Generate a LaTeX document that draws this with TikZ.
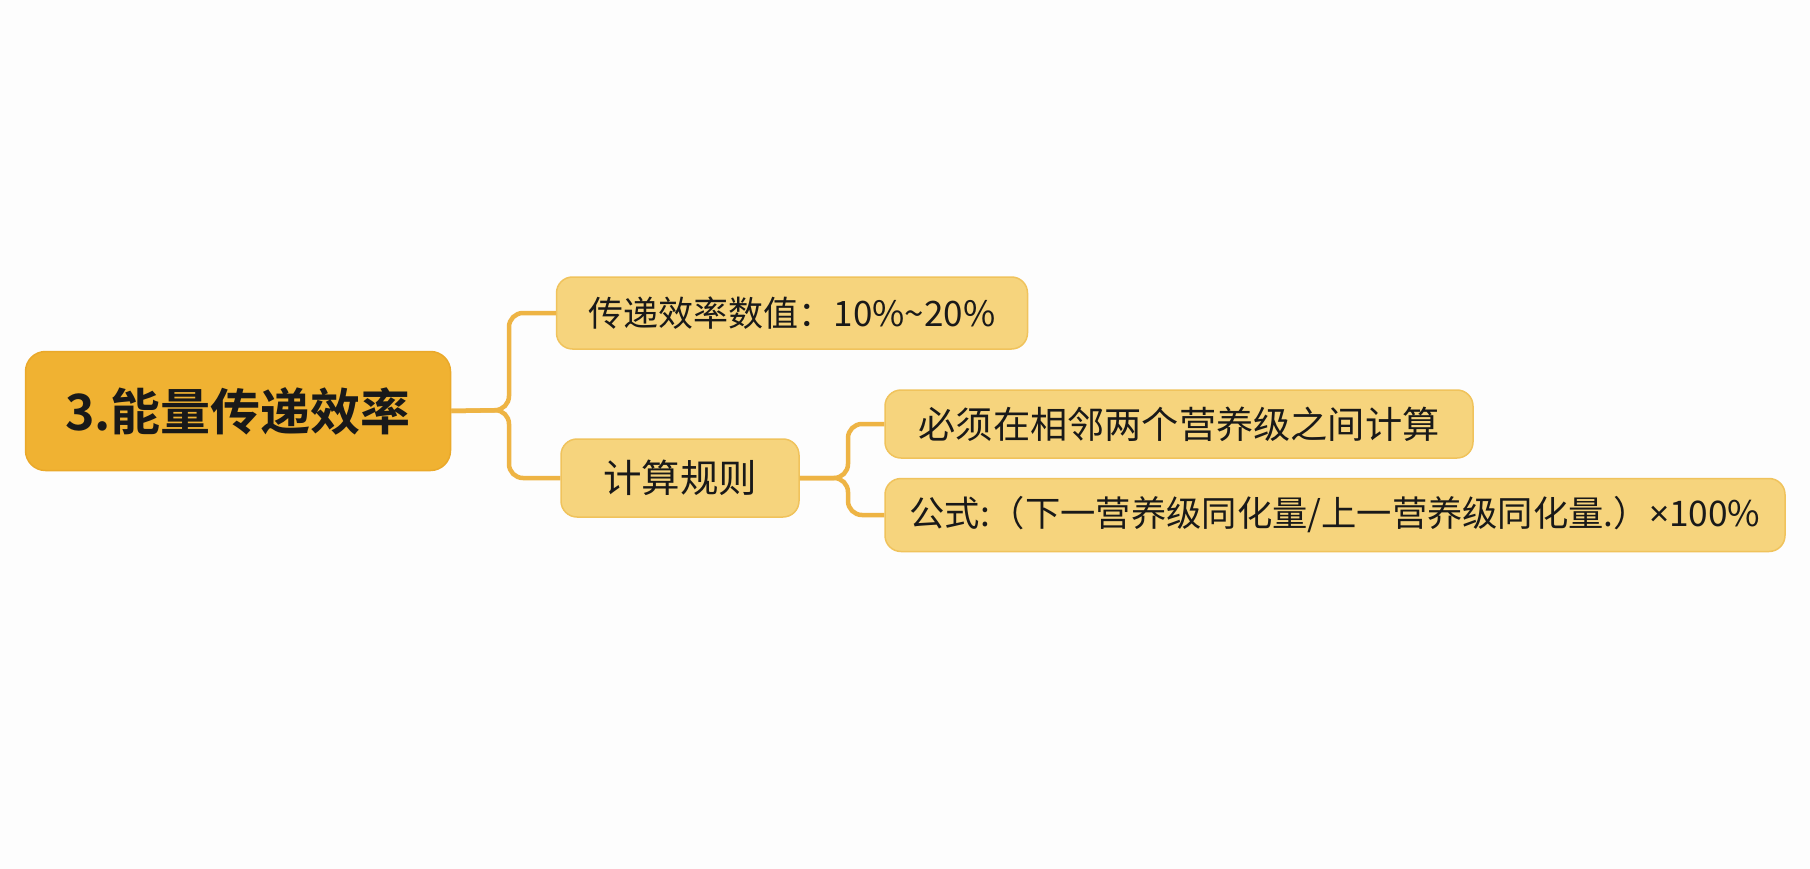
\documentclass[tikz,border=0pt]{standalone}
\usepackage{fontspec}
\newfontfamily\cjk{Noto Sans CJK SC}
\newfontfamily\cjkb{Noto Sans CJK SC Bold}
\newfontfamily\lat{Noto Sans}
\definecolor{bgc}{HTML}{FDFDFD}
\definecolor{rootfill}{HTML}{F0B232}
\definecolor{rootdraw}{HTML}{EAA92A}
\definecolor{kidfill}{HTML}{F6D47D}
\definecolor{kiddraw}{HTML}{F0C35C}
\definecolor{conn}{HTML}{EEB444}
\tikzset{
  rootbox/.style={draw=rootdraw, fill=rootfill, line width=1.5pt, rounded corners=20pt,
    minimum width=425pt, minimum height=119pt, inner sep=0pt,
    font=\cjkb\fontsize{50}{60}\selectfont, text=black!90},
  kidbox/.style={draw=kiddraw, fill=kidfill, line width=1.5pt, rounded corners=16pt,
    inner sep=0pt, text=black!90},
  link/.style={draw=conn, line width=4.5pt, rounded corners=14pt},
}
\begin{document}
\begin{tikzpicture}[x=1pt,y=-1pt]
  \fill[bgc] (0,0) rectangle (1810,869);
  \useasboundingbox (0,0) rectangle (1810,869);
  \coordinate (j1) at (509,410);
  \coordinate (j2) at (848,478);
  \node[rootbox] (root) at (238,411) {3.能量传递效率};
  \node[kidbox, minimum width=471pt, minimum height=72pt, font=\cjk\fontsize{35}{42}\selectfont] (n1) at (792,313) {传递效率数值：10\%\textasciitilde20\%};
  \node[kidbox, minimum width=238pt, minimum height=78pt, font=\cjk\fontsize{38.5}{46}\selectfont] (n2) at (680,478) {计算规则};
  \node[kidbox, minimum width=588pt, minimum height=68pt, font=\cjk\fontsize{37.2}{44}\selectfont] (n3) at (1179,424) {必须在相邻两个营养级之间计算};
  \node[kidbox, minimum width=900pt, minimum height=73pt, font=\cjk\fontsize{35.3}{42}\selectfont] (n4) at (1335,515) {公式:（下一营养级同化量/上一营养级同化量.）{\lat×}100\%};
  \draw[link] (root.east) -- (j1) |- (n1.west);
  \draw[link] (root.east) -- (j1) |- (n2.west);
  \draw[link] (n2.east) -- (j2) |- (n3.west);
  \draw[link] (n2.east) -- (j2) |- (n4.west);
\end{tikzpicture}
\end{document}
